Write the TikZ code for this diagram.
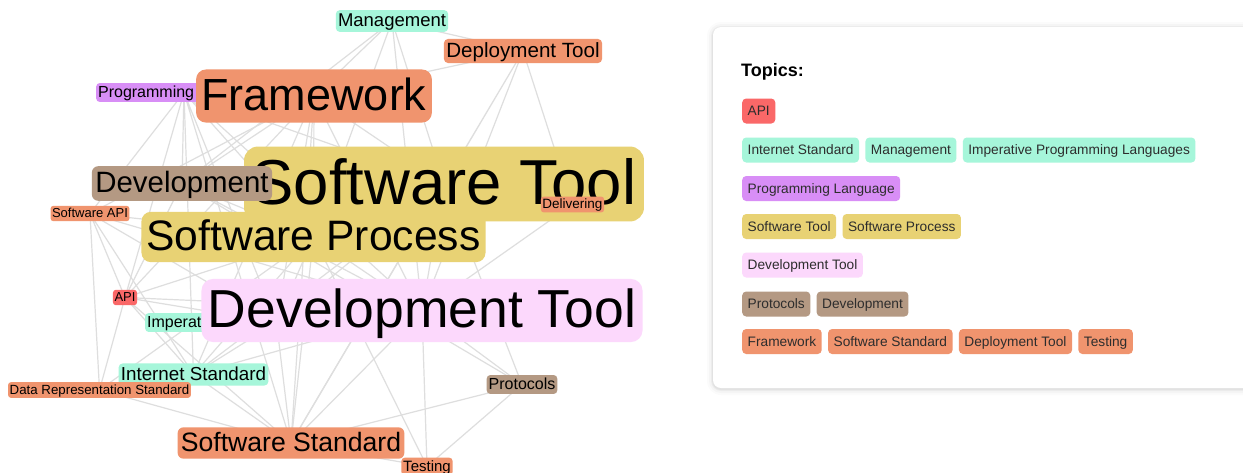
\documentclass[tikz,border=0pt]{standalone}
\usepackage{fontspec}
\setmainfont{Liberation Sans}
\usetikzlibrary{positioning}
\pgfdeclarelayer{links}
\pgfsetlayers{links,main}
\definecolor{tagred}{RGB}{250,104,104}
\definecolor{tagmint}{RGB}{166,246,218}
\definecolor{tagpurple}{RGB}{216,142,246}
\definecolor{tagyellow}{RGB}{232,210,116}
\definecolor{tagpink}{RGB}{252,216,252}
\definecolor{tagbrown}{RGB}{180,153,131}
\definecolor{tagorange}{RGB}{240,148,110}
\definecolor{linkgray}{RGB}{222,222,222}
\definecolor{inkgray}{RGB}{45,45,45}
\tikzset{
  word/.style 2 args={fill=#1, font=\fontsize{#2}{#2}\selectfont, inner xsep=0.12*#2,
    inner ysep=0pt, rounded corners=0.22*#2, execute at begin node={\rule[-.27em]{0pt}{1.18em}}},
  chip/.style={fill=#1, text=inkgray, font=\fontsize{13.7}{13.7}\selectfont, rounded corners=4pt,
    inner xsep=5.5pt, inner ysep=0pt, minimum height=25pt, text height=9.7pt, text depth=0pt},
  link/.style={draw=linkgray, line width=1.2pt}
}

\begin{document}
\begin{tikzpicture}[x=1pt, y=-1pt]
    \useasboundingbox (0,0) rectangle (1243,472);

    % word graph
    \node[word={tagmint}{18.5}] (mgmt) at (392,21) {Management};
    \node[word={tagorange}{20.6}] (deploy) at (523,51) {Deployment Tool};
    \node[word={tagpurple}{16}, anchor=west] (prog) at (96,92.5) {Programming Language};
    \node[word={tagorange}{45}] (frame) at (314,96) {Framework};
    \node[word={tagyellow}{63.5}] (stool) at (444,184) {Software Tool};
    \node[word={tagyellow}{42.6}] (sproc) at (313.5,237) {Software Process};
    \node[word={tagbrown}{29.4}] (devel) at (182,183.5) {Development};
    \node[word={tagorange}{13.5}] (deliv) at (572.5,204.5) {Delivering};
    \node[word={tagorange}{13}] (sapi) at (90,213.5) {Software API};
    \node[word={tagred}{13}] (api) at (125,297.5) {API};
    \node[word={tagmint}{16}, anchor=west] (imper) at (145,322.5) {Imperative Programming Languages};
    \node[word={tagpink}{53.5}] (dtool) at (422,310.5) {Development Tool};
    \node[word={tagmint}{18.8}] (inet) at (193.5,374.5) {Internet Standard};
    \node[word={tagorange}{13.3}] (datarep) at (99.5,390) {Data Representation Standard};
    \node[word={tagbrown}{16}] (proto) at (522,384.5) {Protocols};
    \node[word={tagorange}{26.6}] (sstd) at (291,443) {Software Standard};
    \node[word={tagorange}{15}] (test) at (427,466.5) {Testing};

    \begin{pgfonlayer}{links}
    \fill[white] (0,0) rectangle (1243,472);
    \draw[link] (mgmt.center) -- (devel.center) (mgmt.center) -- (frame.center)
        (mgmt.center) -- (stool.center) (mgmt.center) -- (dtool.center)
        (mgmt.center) -- (deploy.center) (mgmt.center) -- (sproc.center);
    \draw[link] (deploy.center) -- (frame.center) (deploy.center) -- (stool.center)
        (deploy.center) -- (dtool.center) (deploy.center) -- (sstd.center)
        (deploy.center) -- (deliv.center);
    \draw[link] (prog.center) -- (sapi.center) (prog.center) -- (devel.center)
        (prog.center) -- (stool.center) (prog.center) -- (sproc.center)
        (prog.center) -- (dtool.center) (prog.center) -- (api.center)
        (prog.center) -- (imper.center) (prog.center) -- (inet.center)
        (prog.center) -- (sstd.center);
    \draw[link] (frame.center) -- (stool.center) (frame.center) -- (sproc.center)
        (frame.center) -- (dtool.center) (frame.center) -- (devel.center)
        (frame.center) -- (sapi.center) (frame.center) -- (api.center)
        (frame.center) -- (imper.center) (frame.center) -- (sstd.center)
        (frame.center) -- (inet.center);
    \draw[link] (stool.center) -- (sproc.center) (stool.center) -- (dtool.center)
        (stool.center) -- (devel.center) (stool.center) -- (sstd.center)
        (stool.center) -- (imper.center) (stool.center) -- (inet.center)
        (stool.center) -- (proto.center);
    \draw[link] (devel.center) -- (sproc.center) (devel.center) -- (dtool.center)
        (devel.center) -- (api.center) (devel.center) -- (proto.center);
    \draw[link] (sapi.center) -- (api.center) (sapi.center) -- (imper.center)
        (sapi.center) -- (inet.center) (sapi.center) -- (dtool.center)
        (sapi.center) -- (sproc.center) (sapi.center) -- (datarep.center);
    \draw[link] (deliv.center) -- (dtool.center);
    \draw[link] (sproc.center) -- (dtool.center) (sproc.center) -- (api.center)
        (sproc.center) -- (imper.center) (sproc.center) -- (inet.center)
        (sproc.center) -- (sstd.center) (sproc.center) -- (datarep.center)
        (sproc.center) -- (test.center);
    \draw[link] (api.center) -- (imper.center) (api.center) -- (dtool.center)
        (api.center) -- (inet.center) (api.center) -- (datarep.center)
        (api.center) -- (sstd.center);
    \draw[link] (imper.center) -- (inet.center) (imper.center) -- (sstd.center)
        (imper.center) -- (dtool.center);
    \draw[link] (dtool.center) -- (inet.center) (dtool.center) -- (sstd.center)
        (dtool.center) -- (proto.center) (dtool.center) -- (test.center);
    \draw[link] (inet.center) -- (sstd.center) (inet.center) -- (datarep.center)
        (datarep.center) -- (sstd.center);
    \draw[link] (proto.center) -- (sstd.center) (proto.center) -- (test.center)
        (sstd.center) -- (test.center);
    \end{pgfonlayer}

    % legend card
    \foreach \s/\o in {6/0.015, 4/0.025, 2/0.035, 1/0.04}
        \fill[black, opacity=\o, rounded corners=8+\s] (713-\s,27-\s+1) rectangle (1260,388+\s+1);
    \fill[white, rounded corners=8pt] (713,27) rectangle (1260,388);
    \node[anchor=base west, font=\fontsize{18}{18}\selectfont\bfseries, inner sep=0pt] (title) at (741,76) {Topics:};

    \node[chip=tagred, anchor=west] (kApi) at (742,111) {API};

    \node[chip=tagmint, anchor=west] (kInet) at (742,150) {Internet Standard};
    \node[chip=tagmint, right=6pt of kInet] (kMgmt) {Management};
    \node[chip=tagmint, right=6pt of kMgmt] (kImper) {Imperative Programming Languages};

    \node[chip=tagpurple, anchor=west] (kProg) at (742,188.5) {Programming Language};

    \node[chip=tagyellow, anchor=west] (kStool) at (742,226.5) {Software Tool};
    \node[chip=tagyellow, right=6pt of kStool] (kSproc) {Software Process};

    \node[chip=tagpink, anchor=west] (kDtool) at (742,265) {Development Tool};

    \node[chip=tagbrown, anchor=west] (kProto) at (742,304) {Protocols};
    \node[chip=tagbrown, right=6pt of kProto] (kDevel) {Development};

    \node[chip=tagorange, anchor=west] (kFrame) at (742,341.5) {Framework};
    \node[chip=tagorange, right=6pt of kFrame] (kSstd) {Software Standard};
    \node[chip=tagorange, right=6pt of kSstd] (kDeploy) {Deployment Tool};
    \node[chip=tagorange, right=6pt of kDeploy] (kTest) {Testing};
\end{tikzpicture}
\end{document}
